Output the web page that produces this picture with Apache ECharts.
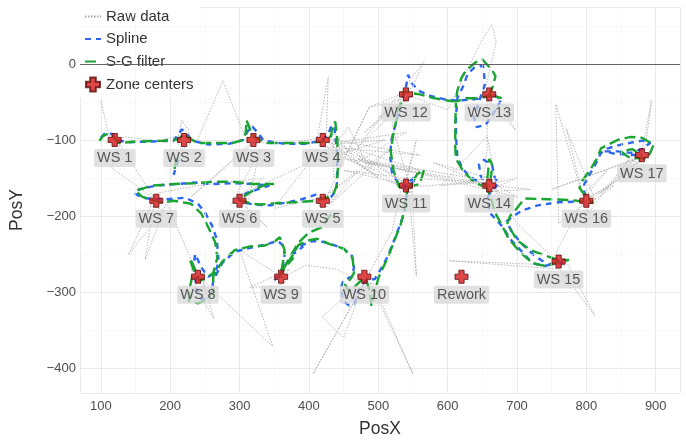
<!DOCTYPE html>
<html>
<head>
<meta charset="utf-8">
<script src="https://cdn.jsdelivr.net/npm/echarts@6/dist/echarts.min.js"></script>
<style>html,body{margin:0;padding:0;background:#fff}#c{width:686px;height:443px}</style>
</head>
<body>
<div id="c"></div>
<script>
// ---------- data ----------
const zoneNames = ['WS 1','WS 2','WS 3','WS 4','WS 5','WS 6','WS 7','WS 8','WS 9','WS 10','WS 11','WS 12','WS 13','WS 14','WS 15','WS 16','WS 17','Rework'];
const zoneX = [120,220,320,420,420,300,180,240,360,480,540,540,660,660,760,800,880,620];
const zoneY = [-100,-100,-100,-100,-180,-180,-180,-280,-280,-280,-160,-40,-40,-160,-260,-180,-120,-280];

const rawX = [100,112,125,118,130,115,178,122,108,135,
  180,212,217,226,230,218,205,225,238,
  276,305,318,328,230,312,330,322,
  380,412,428,425,438,470,540,430,500,425,560,415,432,457,
  480,445,510,440,495,435,
  436,487,428,470,430,520,412,425,440,418,
  350,400,302,288,330,310,340,296,335,
  240,182,170,190,140,178,164,195,
  232,246,234,263,244,252,230,348,
  300,352,366,356,315,372,360,395,
  440,470,488,406,476,492,550,484,419,450,478,
  520,532,548,555,542,555,536,470,545,450,540,640,548,460,560,455,548,
  520,532,548,566,470,538,500,546,487,542,480,545,
  600,648,664,670,652,698,668,657,
  657,650,668,470,655,700,662,590,657,672,660,580,665,480,660,700,655,720,664,
  700,752,768,602,762,812,770,748,
  790,805,850,800,760,756,798,812,771,795,830,795,840,802,
  800,870,850,885,894,878,890,750,882,820,878,845,888,865,880];
const rawY = [-48,-95,-92,-108,-100,-136,-178,-98,-103,-96,
  -101,-95,-74,-87,-104,-112,-98,-95,-103,
  -22,-90,-80,-98,-175,-108,-95,-104,
  -103,-98,-17,-95,-92,-130,-90,-105,-150,-98,-120,-108,-112,-83,
  -125,-105,-100,-120,-140,-100,
  -150,-57,-170,-140,-185,-110,-182,-188,-172,-176,
  -190,-130,-172,-185,-112,-190,-215,-176,-150,
  -160,-170,-186,-192,-251,-175,-257,-182,
  -262,-285,-292,-335,-276,-300,-270,-372,
  -245,-275,-286,-292,-294,-270,-282,-265,
  -270,-285,-276,-408,-295,-288,-408,-280,-333,-360,-290,
  -220,-168,-156,-279,-150,-100,-165,-120,-160,-140,-150,-155,-162,-110,-140,-125,-170,
  -80,-38,-32,3,-110,-50,-70,-44,-57,-36,-90,-42,
  -60,29,52,29,-42,-87,-38,-45,
  -110,-165,-155,-125,-165,-175,-155,-160,-95,-168,-150,-130,-162,-130,-158,-150,-168,-165,-160,
  -210,-255,-265,-259,-270,-331,-258,-262,
  -190,-175,-150,-182,-210,-53,-185,-178,-85,-172,-140,-178,-160,-185,
  -200,-115,-140,-110,-48,-125,-118,-165,-122,-170,-118,-150,-122,-135,-115];

const splineX = [100,106,116,124,140,175,205,212,217,224,232,255,285,305,312,318,326,335,365,395,418,428,433,437,440,441,440,432,421,
  410,390,369,345,320,305,298,310,326,343,320,290,260,235,210,180,155,148,160,178,
  195,222,240,250,260,267,270,265,255,245,236,234,236,238,245,255,260,262,
  275,293,315,336,355,362,365,362,358,350,370,380,
  385,405,420,435,450,462,465,462,450,446,450,458,466,470,482,495,507,515,522,530,536,541,540,538,545,553,548,
  530,520,517,519,524,530,535,540,543,548,558,575,593,612,635,652,662,678,668,655,642,638,645,654,651,638,629,622,614,612,612,614,621,631,645,655,648,645,652,664,668,674,665,658,
  660,670,680,690,707,722,740,755,760,765,745,725,705,692,685,695,707,730,760,790,800,
  796,797,805,812,821,831,850,873,888,892,880,864,845,826,840,870,880,
  null,212,208,205,
  null,366,378,392];
const splineY = [-97,-91,-92,-100,-103,-102,-101,-92,-86,-92,-101,-106,-105,-100,-88,-82,-90,-101,-105,-105,-101,-92,-80,-86,-110,-140,-165,-175,-178,
  -172,-178,-182,-186,-185,-182,-178,-170,-165,-160,-158,-157,-158,-156,-158,-160,-165,-170,-176,-178,
  -178,-176,-184,-195,-212,-230,-260,-275,-280,-268,-250,-265,-278,-295,-310,-308,-300,-285,
  -262,-247,-242,-238,-233,-238,-250,-268,-280,-285,-262,-245,
  -240,-233,-234,-238,-243,-252,-268,-280,-284,-295,-312,-318,-315,-300,-285,-283,-265,-250,-234,-215,-200,-182,-168,-160,-155,-148,-162,
  -158,-145,-120,-100,-83,-60,-45,-30,-14,-25,-35,-42,-46,-48,-47,-44,-40,-46,-62,-80,-83,-70,-50,-26,-2,-5,-13,-30,-45,-70,-95,-122,-137,-148,-155,-160,-148,-132,-126,-133,-150,-157,-165,-175,
  -195,-205,-215,-230,-247,-262,-266,-262,-255,-262,-264,-252,-235,-220,-207,-200,-193,-186,-182,-181,-178,
  -165,-158,-145,-134,-117,-111,-106,-102,-100,-104,-112,-117,-115,-115,-118,-120,-120,
  null,-126,-137,-146,
  null,-265,-250,-240];

const sgX = [98,103,110,118,126,150,190,212,220,226,240,265,290,305,309,310,316,322,340,370,400,420,432,434,438,441,442,440,436,425,
  410,395,380,355,330,317,305,300,310,326,340,350,320,290,262,235,205,175,150,160,178,
  190,205,230,245,255,265,268,262,250,242,232,228,234,228,227,240,253,262,262,
  275,293,315,336,350,358,365,362,358,365,378,370,380,
  385,400,412,430,450,463,465,460,452,458,475,482,488,490,495,500,508,516,525,532,537,540,542,548,556,566,560,546,530,
  522,518,522,529,534,537,545,560,580,600,612,614,620,626,640,650,656,664,669,665,660,678,665,640,625,612,611,611,612,622,634,648,660,663,664,660,658,655,
  662,668,678,688,705,722,742,760,775,760,740,720,700,686,690,697,711,745,775,798,810,
  800,790,793,805,815,821,832,845,864,880,897,893,888,875,860,850,866,880,
  null,209,206,
  null,432,418,400,385,372,362];
const sgY = [-101,-95,-92,-96,-104,-102,-101,-99,-92,-97,-104,-104,-104,-100,-90,-74,-88,-97,-104,-104,-104,-102,-95,-80,-76,-100,-135,-160,-170,-176,
  -180,-181,-182,-183,-185,-184,-180,-178,-172,-163,-158,-158,-158,-155,-155,-157,-158,-160,-167,-175,-180,
  -182,-180,-184,-197,-215,-235,-255,-275,-283,-285,-262,-256,-272,-295,-312,-315,-310,-300,-280,
  -260,-245,-240,-239,-234,-228,-245,-265,-280,-268,-255,-262,-246,
  -238,-232,-230,-237,-243,-255,-275,-283,-290,-300,-285,-282,-300,-318,-300,-282,-266,-250,-228,-212,-195,-178,-165,-158,-145,-139,-158,-161,-162,
  -140,-115,-90,-62,-45,-36,-38,-40,-45,-48,-50,-35,-18,-9,2,6,0,-8,-16,-30,-40,-45,-42,-45,-45,-50,-80,-110,-125,-140,-152,-160,-160,-145,-132,-125,-145,-160,
  -175,-195,-212,-230,-248,-262,-266,-260,-258,-258,-252,-245,-232,-210,-200,-193,-177,-178,-179,-181,-183,
  -175,-163,-155,-140,-125,-111,-106,-100,-96,-97,-106,-115,-124,-124,-122,-115,-112,-120,
  null,-124,-140,
  null,-198,-215,-222,-235,-255,-272];

const xTicks = [100,200,300,400,500,600,700,800,900];
const yTicks = [0,-100,-200,-300,-400];
const minorX = [150,250,350,450,550,650,750,850];
const minorY = [50,-50,-150,-250,-350];
const zeroLine = 0;

// ---------- build ----------
const pts = (xs, ys) => xs.map((x, i) => (x === null ? [null, null] : [x, ys[i]]));
const crossPath = 'path://M-1.2,-3L1.2,-3L1.2,-1.2L3,-1.2L3,1.2L1.2,1.2L1.2,3L-1.2,3L-1.2,1.2L-3,1.2L-3,-1.2L-1.2,-1.2Z';
const fmt = v => (v < 0 ? '\u2212' + Math.abs(v) : String(v));
const FONT = 'Liberation Sans, Arial, sans-serif';

const gridMarks = [];
minorX.forEach(v => gridMarks.push({xAxis: v, lineStyle: {color: '#f1f1f1', width: 0.6, type: 'solid'}}));
minorY.forEach(v => gridMarks.push({yAxis: v, lineStyle: {color: '#f1f1f1', width: 0.6, type: 'solid'}}));
gridMarks.push({yAxis: zeroLine, lineStyle: {color: '#555', width: 0.9, type: 'solid'}});

const chart = echarts.init(document.getElementById('c'), null, {renderer: 'canvas'});
chart.setOption({
  animation: false,
  textStyle: {fontFamily: FONT},
  grid: {left: 72, right: 6, top: 7, bottom: 45, containLabel: false},
  xAxis: {
    type: 'value', min: 70, max: 935, splitNumber: 9,
    name: 'PosX', nameLocation: 'middle', nameGap: 27,
    nameTextStyle: {fontSize: 17.5, color: '#333', fontFamily: FONT},
    axisLine: {show: false}, axisTick: {show: false},
    axisLabel: {color: '#4d4d4d', fontSize: 13, margin: 7, showMinLabel: false, showMaxLabel: false,
      formatter: v => (xTicks.indexOf(v) >= 0 ? fmt(v) : '')},
    splitLine: {show: true, lineStyle: {color: '#e9e9e9', width: 1}}
  },
  yAxis: {
    type: 'value', min: -433, max: 75, splitNumber: 5,
    name: 'PosY', nameLocation: 'middle', nameGap: 54, nameRotate: 90,
    nameTextStyle: {fontSize: 17.5, color: '#333', fontFamily: FONT, padding: [0, 20, 0, 0]},
    axisLine: {show: false}, axisTick: {show: false},
    axisLabel: {color: '#4d4d4d', fontSize: 13, margin: 4, showMinLabel: false, showMaxLabel: false,
      formatter: v => (yTicks.indexOf(v) >= 0 ? fmt(v) : '')},
    splitLine: {show: true, lineStyle: {color: '#e9e9e9', width: 1}}
  },
  legend: {
    orient: 'vertical', left: 78, top: 4, padding: [5, 6, 5, 6],
    backgroundColor: '#ffffff', itemWidth: 16, itemHeight: 14, itemGap: 7.5,
    textStyle: {fontSize: 15, color: '#333', fontFamily: FONT},
    data: [
      {name: 'Raw data', itemStyle: {opacity: 0}},
      {name: 'Spline', itemStyle: {opacity: 0}},
      {name: 'S-G filter', itemStyle: {opacity: 0}},
      {name: 'Zone centers'}
    ]
  },
  series: [
    {
      name: 'Raw data', type: 'line', data: pts(rawX, rawY), showSymbol: false, symbol: 'none',
      lineStyle: {color: '#a3a3a3', width: 0.8, type: [1.5, 1.5]}, itemStyle: {color: '#a3a3a3'},
      z: 2, silent: true,
      markLine: {silent: true, symbol: 'none', label: {show: false}, data: gridMarks, animation: false}
    },
    {
      name: 'Spline', type: 'line', data: pts(splineX, splineY), showSymbol: false, symbol: 'none',
      lineStyle: {color: '#2d66f5', width: 2.4, type: [6, 5]}, itemStyle: {color: '#2d66f5'}, z: 3
    },
    {
      name: 'S-G filter', type: 'line', data: pts(sgX, sgY), showSymbol: false, symbol: 'none',
      lineStyle: {color: '#1aa532', width: 2.4, type: [11, 5]}, itemStyle: {color: '#1aa532'}, z: 4
    },
    {
      name: 'Zone centers', type: 'scatter', symbol: crossPath, symbolSize: 13,
      data: zoneX.map((x, i) => ({name: zoneNames[i], value: [x, zoneY[i]]})),
      itemStyle: {color: '#d7191c', borderColor: '#5a0a0a', borderWidth: 1},
      label: {show: true, position: 'bottom', distance: 2, formatter: p => p.name,
        color: '#333', fontSize: 14.5, fontFamily: FONT,
        backgroundColor: 'rgba(214,214,214,0.92)', padding: [2, 3, 1, 3], borderRadius: 2},
      z: 6
    }
  ]
});
</script>
</body>
</html>
